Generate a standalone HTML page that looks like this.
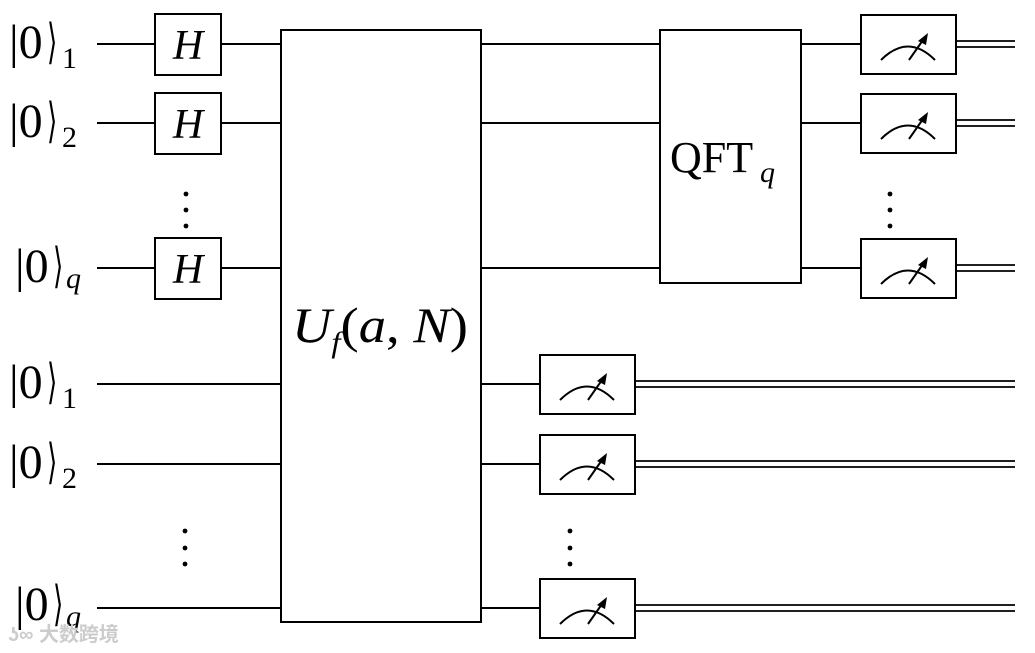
<!DOCTYPE html>
<html><head><meta charset="utf-8"><style>
html,body{margin:0;padding:0;background:#fff;}
svg{display:block;}
text{font-family:"Liberation Serif","DejaVu Serif",serif;fill:#000;}
</style></head><body>
<svg width="1035" height="653" viewBox="0 0 1035 653" xmlns="http://www.w3.org/2000/svg">
<defs>
<g id="m">
<rect x="0" y="0" width="95" height="59" fill="#fff" stroke="#000" stroke-width="2"/>
<path d="M20 45 Q47 18 74 45" fill="none" stroke="#000" stroke-width="2"/>
<line x1="48" y1="45" x2="62" y2="25" stroke="#000" stroke-width="2"/>
<polygon points="67,18 57,26 65,30" fill="#000"/>
</g>
<g id="h">
<rect x="0" y="0" width="66" height="61" fill="#fff" stroke="#000" stroke-width="2"/>
<text x="33" y="45" font-size="42" font-style="italic" text-anchor="middle">H</text>
</g>
<g id="k">
<text x="0" y="0" font-size="48">|0</text>
<text x="0" y="0" font-size="48" font-family="DejaVu Serif" transform="translate(38,0) scale(0.55,1)">⟩</text>
</g>
</defs>
<g stroke="#000" stroke-width="2" fill="none">
<line x1="97" y1="44" x2="861" y2="44"/>
<line x1="97" y1="123" x2="861" y2="123"/>
<line x1="97" y1="268" x2="861" y2="268"/>
<line x1="97" y1="384" x2="540" y2="384"/>
<line x1="97" y1="464" x2="540" y2="464"/>
<line x1="97" y1="608" x2="540" y2="608"/>
<g stroke-width="1.8">
<line x1="956" y1="41" x2="1015" y2="41"/><line x1="956" y1="47" x2="1015" y2="47"/>
<line x1="956" y1="120" x2="1015" y2="120"/><line x1="956" y1="126" x2="1015" y2="126"/>
<line x1="956" y1="265" x2="1015" y2="265"/><line x1="956" y1="271" x2="1015" y2="271"/>
<line x1="635" y1="381" x2="1015" y2="381"/><line x1="635" y1="387" x2="1015" y2="387"/>
<line x1="635" y1="461" x2="1015" y2="461"/><line x1="635" y1="467" x2="1015" y2="467"/>
<line x1="635" y1="605" x2="1015" y2="605"/><line x1="635" y1="611" x2="1015" y2="611"/>
</g>
<rect x="281" y="30" width="200" height="592" fill="#fff"/>
<rect x="660" y="30" width="141" height="253" fill="#fff"/>
</g>
<use href="#h" x="155" y="14"/>
<use href="#h" x="155" y="93"/>
<use href="#h" x="155" y="238"/>
<use href="#m" x="861" y="15"/>
<use href="#m" x="861" y="94"/>
<use href="#m" x="861" y="239"/>
<use href="#m" x="540" y="355"/>
<use href="#m" x="540" y="435"/>
<use href="#m" x="540" y="579"/>
<g fill="#000">
<circle cx="186" cy="194" r="2.4"/><circle cx="186" cy="210" r="2.4"/><circle cx="186" cy="226" r="2.4"/>
<circle cx="890" cy="194" r="2.4"/><circle cx="890" cy="210" r="2.4"/><circle cx="890" cy="226" r="2.4"/>
<circle cx="185" cy="531" r="2.4"/><circle cx="185" cy="548" r="2.4"/><circle cx="185" cy="564" r="2.4"/>
<circle cx="570" cy="531" r="2.4"/><circle cx="570" cy="548" r="2.4"/><circle cx="570" cy="564" r="2.4"/>
</g>
<use href="#k" x="9" y="58"/><text x="62" y="68" font-size="30">1</text>
<use href="#k" x="9" y="137"/><text x="62" y="147" font-size="30">2</text>
<use href="#k" x="15" y="282"/><text x="66" y="288" font-size="30" font-style="italic">q</text>
<use href="#k" x="9" y="398"/><text x="62" y="408" font-size="30">1</text>
<use href="#k" x="9" y="478"/><text x="62" y="488" font-size="30">2</text>
<use href="#k" x="15" y="620"/><text x="66" y="626" font-size="30" font-style="italic">q</text>
<text x="292" y="342" font-size="50" textLength="176" lengthAdjust="spacingAndGlyphs"><tspan font-style="italic">U</tspan><tspan font-size="30" font-style="italic" dy="10">f</tspan><tspan dy="-10">(</tspan><tspan font-style="italic">a</tspan>, <tspan font-style="italic">N</tspan>)</text>
<text x="670" y="172" font-size="44">QFT</text><text x="760" y="182" font-size="30" font-style="italic">q</text>
<text x="8" y="641" font-size="20" style="fill:#ccc;font-family:'Liberation Sans','Noto Sans CJK SC',sans-serif;font-weight:bold">ʖ∞ 大数跨境</text>
</svg>
</body></html>
